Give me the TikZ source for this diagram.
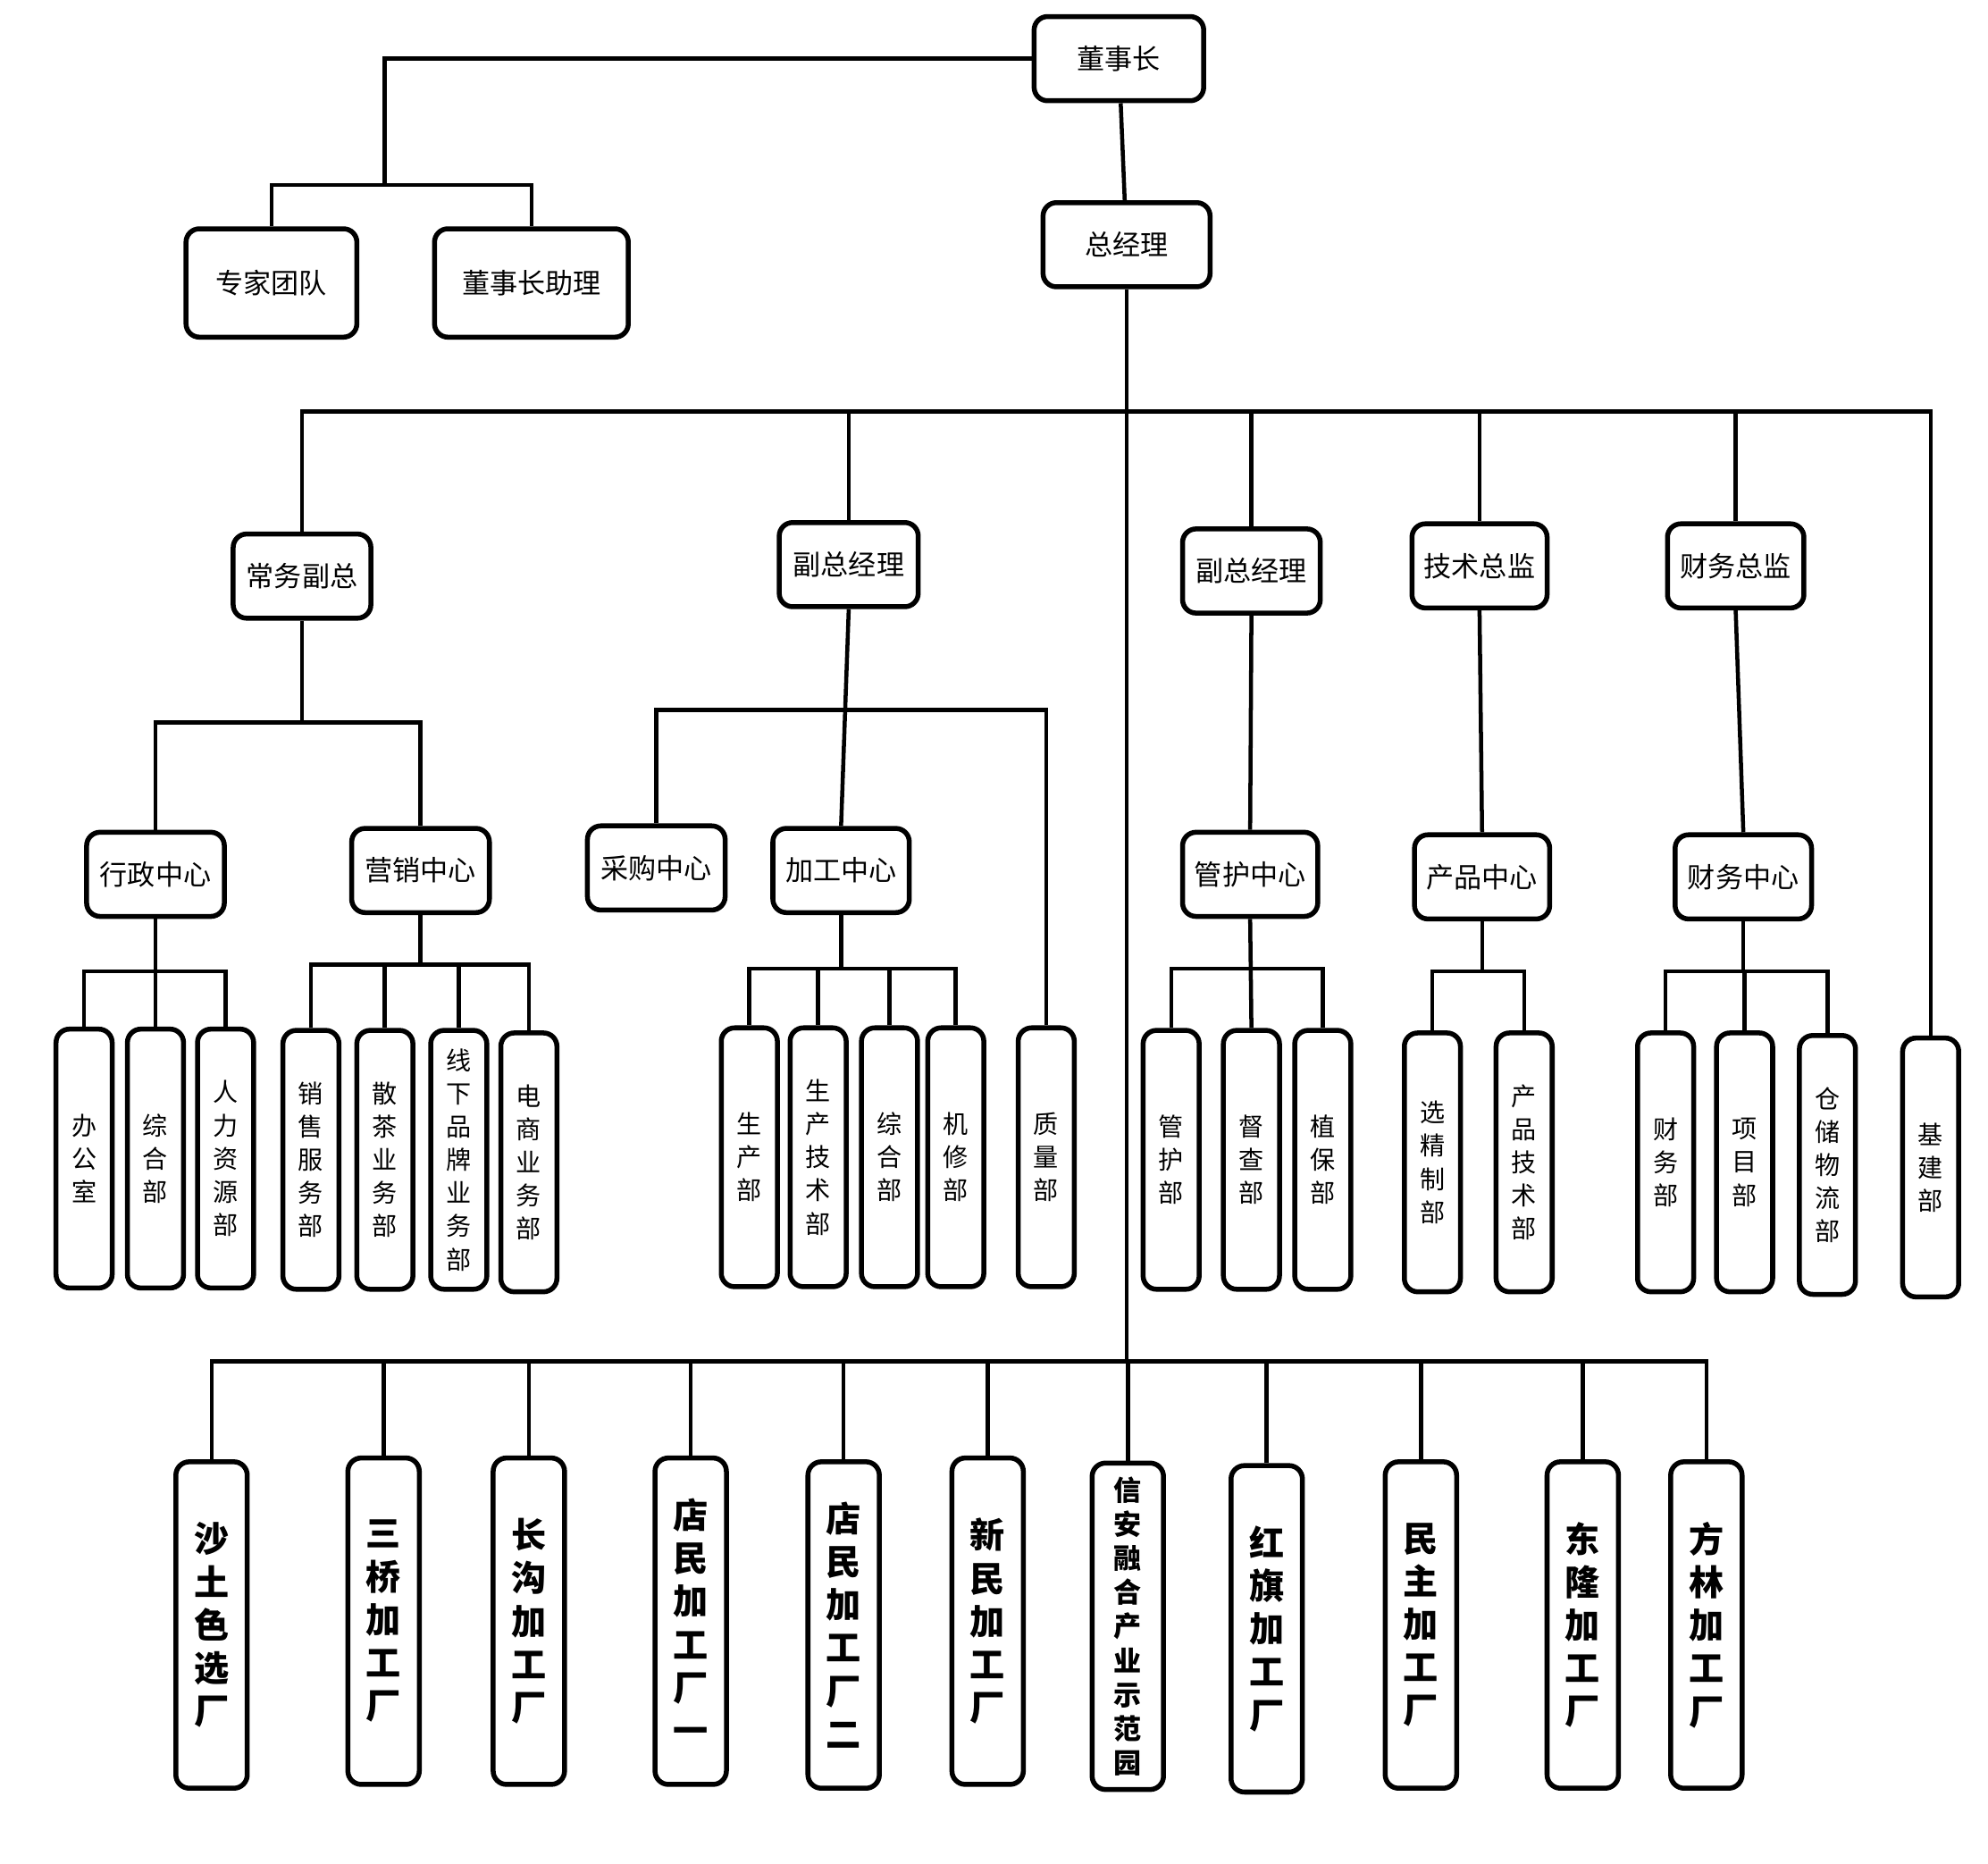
\documentclass[tikz,border=0pt]{standalone}
\usepackage{fontspec}
\newfontfamily\cjk{Noto Sans CJK SC}
\begin{document}
\begin{tikzpicture}[x=0.01cm,y=-0.01cm,
 bx/.style={draw,line width=1.1pt,rounded corners=3pt,font=\cjk\fontsize{6.2}{7}\selectfont,inner sep=0pt,align=center},
 hb/.style={bx,minimum height=0.66cm},
 vb/.style={bx,minimum width=0.44cm,minimum height=2.03cm,font=\cjk\fontsize{5.6}{7.4}\selectfont},
 fb/.style={bx,minimum width=0.56cm,minimum height=2.56cm,font=\cjk\bfseries\fontsize{7.8}{9.6}\selectfont},
 ln/.style={line width=0.9pt}]
\useasboundingbox (0,0) rectangle (1560,1462);
\node[hb,minimum width=1.33cm] (dsz) at (878,46) {董事长};
\node[hb,minimum width=1.31cm] (zjl) at (884,192) {总经理};
\node[bx,minimum width=1.34cm,minimum height=0.85cm] (zj) at (213,222) {专家团队};
\node[bx,minimum width=1.52cm,minimum height=0.85cm] (zl) at (417,222) {董事长助理};
\node[hb,minimum width=1.08cm] (cw) at (237,452) {常务副总};
\node[hb,minimum width=1.09cm] (fz1) at (666,443) {副总经理};
\node[hb,minimum width=1.08cm] (fz2) at (982,448) {副总经理};
\node[hb,minimum width=1.06cm] (js) at (1161,444) {技术总监};
\node[hb,minimum width=1.07cm] (cwz) at (1362,444) {财务总监};
\node[vb] (jj) at (1515,916) {基\\建\\部};
\node[hb,minimum width=1.08cm] (xz) at (122,686) {行政中心};
\node[hb,minimum width=1.08cm] (yx) at (330,683) {营销中心};
\node[hb,minimum width=1.08cm] (cg) at (515,681) {采购中心};
\node[hb,minimum width=1.07cm] (jg) at (660,683) {加工中心};
\node[hb,minimum width=1.06cm] (gh) at (981,686) {管护中心};
\node[hb,minimum width=1.06cm] (cp) at (1163,688) {产品中心};
\node[hb,minimum width=1.07cm] (cwc) at (1368,688) {财务中心};
% level 4
\node[vb] (a1) at (66,909) {办\\公\\室};
\node[vb] (a2) at (122,909) {综\\合\\部};
\node[vb] (a3) at (177,909) {人\\力\\资\\源\\部};
\node[vb] (b1) at (244,910) {销\\售\\服\\务\\部};
\node[vb] (b2) at (302,910) {散\\茶\\业\\务\\部};
\node[vb] (b3) at (360,910) {线\\下\\品\\牌\\业\\务\\部};
\node[vb] (b4) at (415,912) {电\\商\\业\\务\\部};
\node[vb] (c1) at (588,908) {生\\产\\部};
\node[vb] (c2) at (642,908) {生\\产\\技\\术\\部};
\node[vb] (c3) at (698,908) {综\\合\\部};
\node[vb] (c4) at (750,908) {机\\修\\部};
\node[vb] (zl2) at (821,908) {质\\量\\部};
\node[vb] (d1) at (919,910) {管\\护\\部};
\node[vb] (d2) at (982,910) {督\\查\\部};
\node[vb] (d3) at (1038,910) {植\\保\\部};
\node[vb] (e1) at (1124,912) {选\\精\\制\\部};
\node[vb] (e2) at (1196,912) {产\\品\\技\\术\\部};
\node[vb] (f1) at (1307,912) {财\\务\\部};
\node[vb] (f2) at (1369,912) {项\\目\\部};
\node[vb] (f3) at (1434,914) {仓\\储\\物\\流\\部};
% factories
\node[fb] (g1) at (166,1275) {沙\\土\\色\\选\\厂};
\node[fb] (g2) at (301,1272) {三\\桥\\加\\工\\厂};
\node[fb] (g3) at (415,1272) {长\\沟\\加\\工\\厂};
\node[fb] (g4) at (542,1272) {店\\民\\加\\工\\厂\\一};
\node[fb] (g5) at (662,1275) {店\\民\\加\\工\\厂\\二};
\node[fb] (g6) at (775,1272) {新\\民\\加\\工\\厂};
\node[bx,minimum width=0.56cm,minimum height=2.56cm,font=\cjk\bfseries\fontsize{6.2}{7.6}\selectfont] (g7) at (885,1276) {信\\安\\融\\合\\产\\业\\示\\范\\园};
\node[fb] (g8) at (994,1278) {红\\旗\\加\\工\\厂};
\node[fb] (g9) at (1115,1275) {民\\主\\加\\工\\厂};
\node[fb] (g10) at (1242,1275) {东\\隆\\加\\工\\厂};
\node[fb] (g11) at (1339,1275) {方\\林\\加\\工\\厂};
% connectors
\coordinate (t0) at (302,45); \coordinate (t1) at (302,145);
\draw[ln] (dsz.west) -- (dsz.west -| t0) -- (t1);
\draw[ln] (zj.north) |- (t1) -| (zl.north);
\draw[ln] (dsz) -- (zjl);
\coordinate (bot) at (884,1068);
\draw[ln] (zjl.south) -- (bot);
\coordinate (top) at (884,323);
\draw[ln] (cw.north) |- (top) -| (jj.north);
\foreach \n in {fz1,fz2,js,cwz} \draw[ln] (\n.north) -- (\n.north |- top);
\draw[ln] (g1.north) |- (bot) -| (g11.north);
\foreach \n in {g2,g3,g4,g5,g6,g7,g8,g9,g10} \draw[ln] (\n.north) -- (\n.north |- bot);
\coordinate (h1) at (0,567);
\draw[ln] (cw.south) -- (cw.south |- h1);
\draw[ln] (xz.north) -- (xz.north |- h1) -| (yx.north);
\coordinate (h2) at (0,557);
\draw[ln] (cg.north) -- (cg.north |- h2) -| (zl2.north);
\draw[ln] (fz1.south) -- (jg.north);
\draw[ln] (fz2.south) -- (gh.north);
\draw[ln] (js.south) -- (cp.north);
\draw[ln] (cwz.south) -- (cwc.north);
\coordinate (k1) at (0,762);
\draw[ln] (xz.south) -- (a2.north);
\draw[ln] (a1.north) -- (a1.north |- k1) -| (a3.north);
\coordinate (k2) at (0,757);
\draw[ln] (yx.south) -- (yx.south |- k2);
\draw[ln] (b1.north) -- (b1.north |- k2) -| (b4.north);
\foreach \n in {b2,b3} \draw[ln] (\n.north) -- (\n.north |- k2);
\coordinate (k3) at (0,760);
\draw[ln] (jg.south) -- (jg.south |- k3);
\draw[ln] (c1.north) -- (c1.north |- k3) -| (c4.north);
\foreach \n in {c2,c3} \draw[ln] (\n.north) -- (\n.north |- k3);
\draw[ln] (gh.south) -- (d2.north);
\draw[ln] (d1.north) -- (d1.north |- k3) -| (d3.north);
\draw[ln] (cp.south) -- (cp.south |- k1);
\draw[ln] (e1.north) -- (e1.north |- k1) -| (e2.north);
\draw[ln] (cwc.south) -- (cwc.south |- k1);
\draw[ln] (f1.north) -- (f1.north |- k1) -| (f3.north);
\draw[ln] (f2.north) -- (f2.north |- k1);
\end{tikzpicture}
\end{document}
